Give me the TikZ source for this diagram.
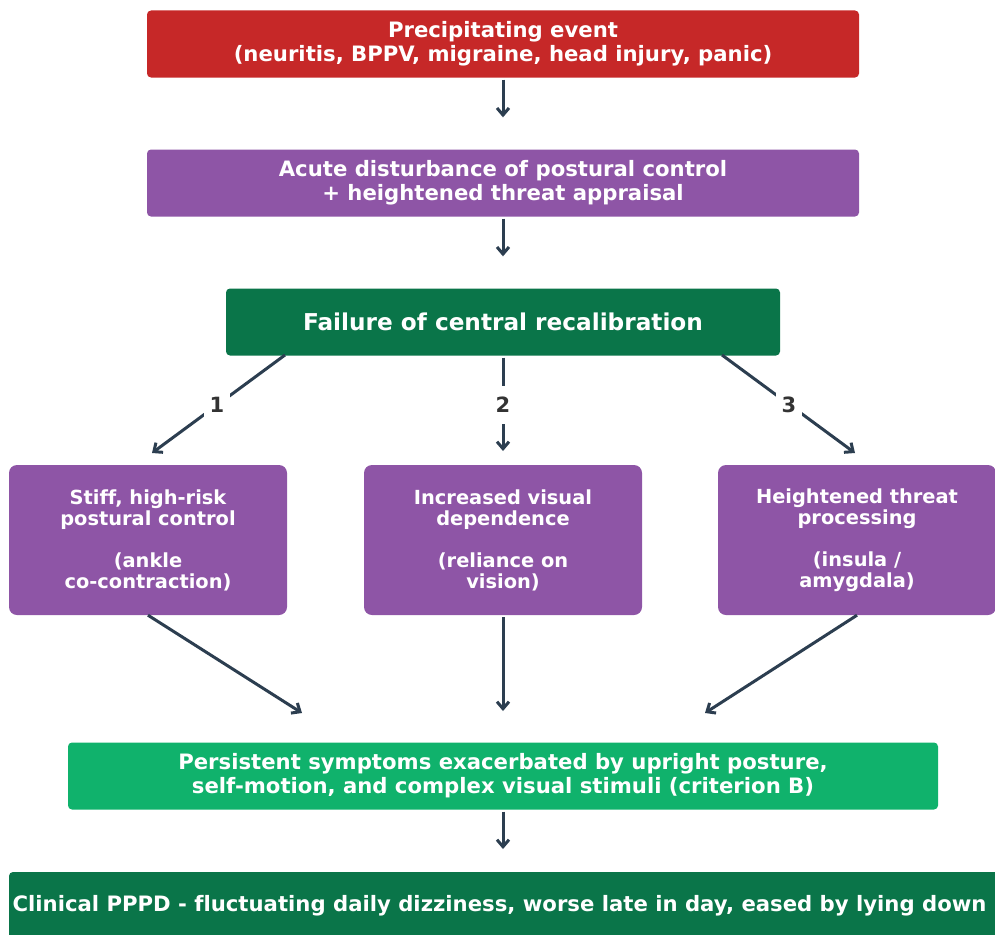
\documentclass[tikz,border=0pt]{standalone}
\usepackage{fontspec}
\setmainfont{DejaVu Sans}[Ligatures=NoCommon]
\usetikzlibrary{arrows.meta}
\definecolor{cred}{HTML}{C62828}
\definecolor{cpurple}{HTML}{8E55A6}
\definecolor{cdgreen}{HTML}{0A7549}
\definecolor{clgreen}{HTML}{10B26C}
\definecolor{carrow}{HTML}{2C3E50}
\definecolor{clabel}{HTML}{333333}
\begin{document}
\begin{tikzpicture}[x=1pt,y=-1pt,
  widebox/.style={rectangle, rounded corners=4pt, text=white, font=\bfseries\fontsize{21.2}{24}\selectfont, align=center, inner sep=0pt, minimum height=67pt},
  sidebox/.style={rectangle, rounded corners=8pt, fill=cpurple, text=white, font=\bfseries\fontsize{19.4}{21}\selectfont, align=center, inner sep=0pt, minimum width=278pt, minimum height=150pt},
  conn/.style={draw=carrow, line width=3pt, -{Straight Barb[length=7pt,width=12pt]}},
  numlabel/.style={fill=white, text=clabel, font=\bfseries\fontsize{21}{24}\selectfont, inner sep=0pt, minimum width=26pt, minimum height=38pt},
  plaintext/.style={text=white, font=\bfseries\fontsize{21.2}{24}\selectfont, inner sep=0pt}
]
\useasboundingbox (0,0) rectangle (995,934);
\clip (0,0) rectangle (995,934);

\node[widebox, fill=cred, minimum width=712pt] (event) at (503,44) {Precipitating event\\(neuritis, BPPV, migraine, head injury, panic)};
\node[widebox, fill=cpurple, minimum width=712pt] (acute) at (503,183) {Acute disturbance of postural control\\+ heightened threat appraisal};
\node[widebox, fill=cdgreen, minimum width=554pt, font=\bfseries\fontsize{23.2}{26}\selectfont] (fail) at (503,322) {Failure of central recalibration};

\node[sidebox] (stiff) at (148,540) {Stiff, high-risk\\postural control\\[21pt](ankle\\co-contraction)};
\node[sidebox] (visual) at (503,540) {Increased visual\\dependence\\[21pt](reliance on\\vision)};
\node[sidebox] (threat) at (857,540) {Heightened threat\\processing\\[21pt](insula /\\amygdala)};

\node[widebox, fill=clgreen, minimum width=870pt] (persist) at (503,776) {Persistent symptoms exacerbated by upright posture,\\self-motion, and complex visual stimuli (criterion B)};
\node[rectangle, rounded corners=4pt, fill=cdgreen, minimum width=992pt, minimum height=70pt, inner sep=0pt] (pppd) at (505,907) {};
\node[plaintext] (pppdtext) at (499.5,906) {Clinical PPPD - fluctuating daily dizziness, worse late in day, eased by lying down};

% coordinates for arrow ends
\coordinate (s1) at (285,355);
\coordinate (e1) at (152,453);
\coordinate (s3) at (722,355);
\coordinate (e3) at (855,453);
\coordinate (e2) at (503,451);
\coordinate (f1) at (302,713);
\coordinate (f2) at (503,711);
\coordinate (f3) at (705,713);
\coordinate (g2) at (503,849);

\draw[conn, shorten <=2pt, shorten >=32pt] (event.south) -- (acute.north);
\draw[conn, shorten <=2pt, shorten >=32pt] (acute.south) -- (fail.north);
\draw[conn] (s1) -- (e1);
\draw[conn, shorten <=2pt] (fail.south) -- (e2);
\draw[conn] (s3) -- (e3);
\draw[conn] (stiff.south) -- (f1);
\draw[conn, shorten <=2pt] (visual.south) -- (f2);
\draw[conn] (threat.south) -- (f3);
\draw[conn, shorten <=2pt] (persist.south) -- (g2);

\node[numlabel] (l1) at (217,405) {1};
\node[numlabel] (l2) at (503,405) {2};
\node[numlabel] (l3) at (789,405) {3};
\end{tikzpicture}
\end{document}
